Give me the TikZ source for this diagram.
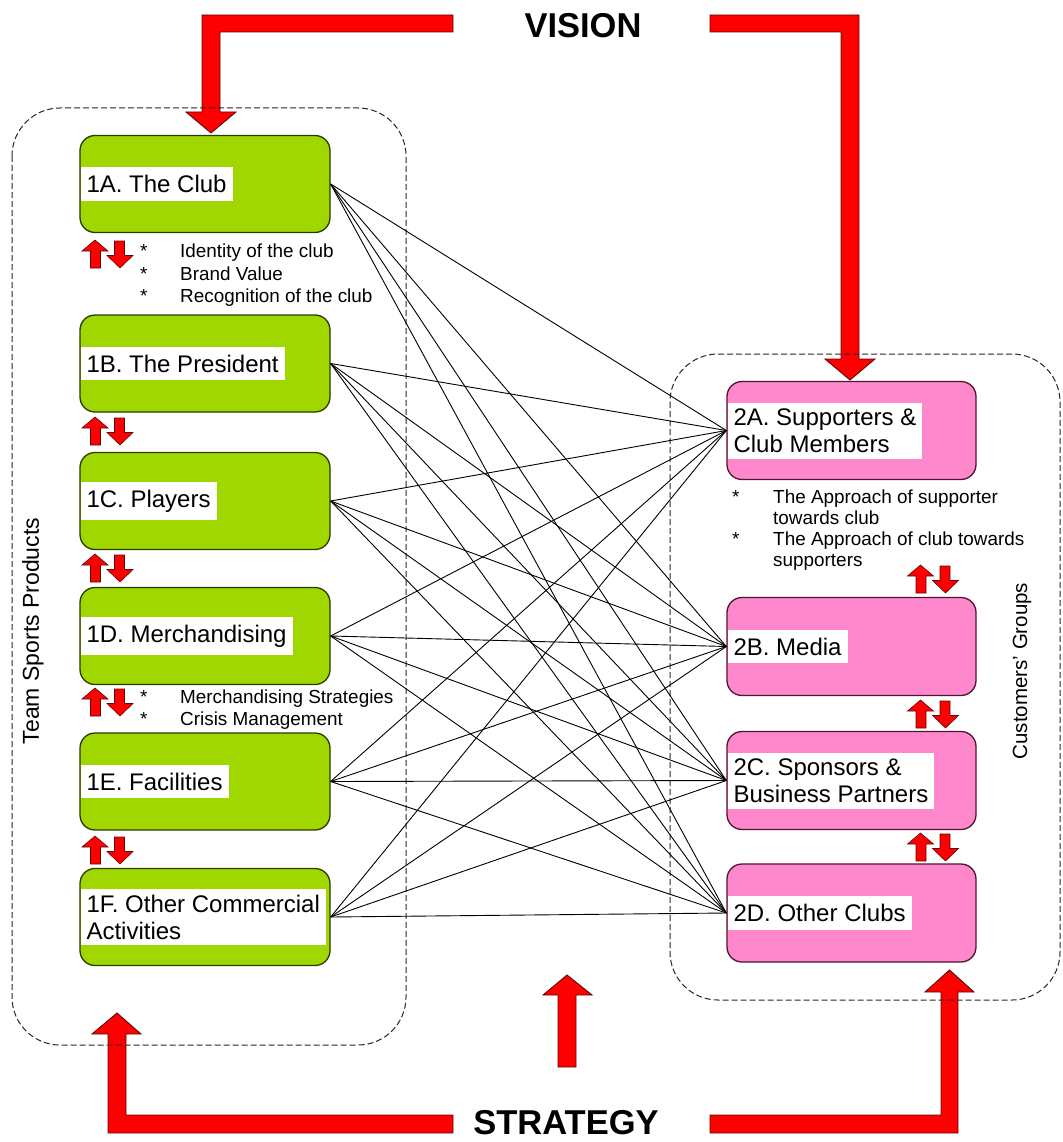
\documentclass[tikz,border=0pt]{standalone}
\usepackage{fontspec}
\setmainfont{Liberation Sans}
\definecolor{limegreen}{RGB}{160,215,0}
\definecolor{pinkfill}{RGB}{255,136,204}
\definecolor{arrred}{RGB}{255,0,0}
\definecolor{arredge}{RGB}{90,10,10}
\definecolor{greenedge}{RGB}{40,60,0}
\definecolor{pinkedge}{RGB}{80,20,50}
\begin{document}
\begin{tikzpicture}[x=1pt,y=-1pt,
  greenbox/.style={draw=greenedge, line width=1.3pt, fill=limegreen, rounded corners=15pt, minimum width=250pt, minimum height=97pt, inner sep=0pt},
  pinkbox/.style={draw=pinkedge, line width=1.3pt, fill=pinkfill, rounded corners=15pt, minimum width=249pt, minimum height=98pt, inner sep=0pt},
  lbl/.style={fill=white, inner xsep=6pt, inner ysep=8pt, font=\fontsize{24}{27}\selectfont, align=left, anchor=west},
  note/.style={font=\fontsize{18.9}{22}\selectfont, anchor=base west, inner sep=0pt},
  bigred/.style={fill=arrred, draw=arredge, line width=0.9pt},
  dashbox/.style={draw=black!85, dash pattern=on 6pt off 3pt, rounded corners=48pt, line width=1pt},
  conn/.style={draw=black, line width=0.9pt},
  titletext/.style={font=\fontsize{34.5}{40}\selectfont\bfseries, inner sep=0pt},
  sidetext/.style={rotate=90, inner sep=0pt},
  updown/.pic={
    \filldraw[fill=arrred, draw=arredge, line width=0.6pt] (-17,14) -- (-17,-3) -- (-25.5,-3) -- (-12.5,-14) -- (0.5,-3) -- (-7,-3) -- (-7,14) -- cycle;
    \filldraw[fill=arrred, draw=arredge, line width=0.6pt] (7,-13) -- (7,1.5) -- (-0.5,1.5) -- (12.5,14) -- (25.5,1.5) -- (17,1.5) -- (17,-13) -- cycle;
  }
]
\useasboundingbox (0,0) rectangle (1062,1142);

% big red arrows
\filldraw[bigred] (453,15) -- (202,15) -- (202,112) -- (186,112) -- (211,133) -- (236,112) -- (220,112) -- (220,32) -- (453,32) -- cycle;
\filldraw[bigred] (710,15) -- (859,15) -- (859,359) -- (875,359) -- (850,380) -- (825,359) -- (841,359) -- (841,32) -- (710,32) -- cycle;
\filldraw[bigred] (453,1115) -- (126,1115) -- (126,1034) -- (141,1034) -- (117,1013) -- (92,1034) -- (108,1034) -- (108,1133) -- (453,1133) -- cycle;
\filldraw[bigred] (710,1115) -- (941,1115) -- (941,992) -- (925,992) -- (949.5,970) -- (974,992) -- (958,992) -- (958,1133) -- (710,1133) -- cycle;
\filldraw[bigred] (558,1067) -- (558,995) -- (543,995) -- (567,975) -- (592,995) -- (576,995) -- (576,1067) -- cycle;

% dashed group frames
\draw[dashbox] (12,108) rectangle (406,1045);
\draw[dashbox] (670,354) rectangle (1060,1000);

% boxes
\node[greenbox] (g1A) at (205,184) {};
\node[greenbox] (g1B) at (205,363.5) {};
\node[greenbox] (g1C) at (205,501) {};
\node[greenbox] (g1D) at (205,636) {};
\node[greenbox] (g1E) at (205,781.5) {};
\node[greenbox] (g1F) at (205,917) {};
\node[pinkbox] (p2A) at (851.5,430.5) {};
\node[pinkbox] (p2B) at (851.5,646.5) {};
\node[pinkbox] (p2C) at (851.5,780.5) {};
\node[pinkbox] (p2D) at (851.5,913) {};

% connectors
\foreach \a in {1A,1B,1C,1D,1E,1F}{
  \foreach \b in {2A,2B,2C,2D}{
    \draw[conn] (g\a.east) -- (p\b.west);
  }
}

% labels
\node[lbl] (l1A) at ([xshift=1pt]g1A.west) {1A. The Club};
\node[lbl] (l1B) at ([xshift=1pt]g1B.west) {1B. The President};
\node[lbl] (l1C) at ([xshift=1pt]g1C.west) {1C. Players};
\node[lbl] (l1D) at ([xshift=1pt]g1D.west) {1D. Merchandising};
\node[lbl] (l1E) at ([xshift=1pt]g1E.west) {1E. Facilities};
\node[lbl, inner ysep=6pt] (l1F) at ([xshift=1pt]g1F.west) {1F. Other Commercial\\Activities};
\node[lbl, inner ysep=6pt] (l2A) at ([xshift=1pt]p2A.west) {2A. Supporters \&\\Club Members};
\node[lbl] (l2B) at ([xshift=1pt]p2B.west) {2B. Media};
\node[lbl, inner ysep=6pt] (l2C) at ([xshift=1pt]p2C.west) {2C. Sponsors \&\\Business Partners};
\node[lbl] (l2D) at ([xshift=1pt]p2D.west) {2D. Other Clubs};

% notes
\node[note] (s1) at (140,257) {*};
\node[note] (n1) at (180,257) {Identity of the club};
\node[note] (s2) at (140,280) {*};
\node[note] (n2) at (180,280) {Brand Value};
\node[note] (s3) at (140,302) {*};
\node[note] (n3) at (180,302) {Recognition of the club};
\node[note] (s4) at (140,703) {*};
\node[note] (n4) at (180,703) {Merchandising Strategies};
\node[note] (s5) at (140,725) {*};
\node[note] (n5) at (180,725) {Crisis Management};
\node[note] (s6) at (732,503) {*};
\node[note] (n6) at (773,503) {The Approach of supporter};
\node[note] (n7) at (773,524) {towards club};
\node[note] (s7) at (732,545) {*};
\node[note] (n8) at (773,545) {The Approach of club towards};
\node[note] (n9) at (773,566) {supporters};

% small double arrows
\pic at (107.5,254) {updown};
\pic at (107.5,431) {updown};
\pic at (107.5,568) {updown};
\pic at (107.5,702) {updown};
\pic at (107.5,850) {updown};
\pic at (933,579) {updown};
\pic at (933,714) {updown};
\pic at (933,847) {updown};

% side and title texts
\node[sidetext, font=\fontsize{23}{27}\selectfont] (tsp) at (33,631) {Team Sports Products};
\node[sidetext, font=\fontsize{20.5}{24}\selectfont] (cg) at (1022,671) {Customers' Groups};
\node[titletext] (vision) at (583,26) {VISION};
\node[titletext] (strategy) at (566,1123) {STRATEGY};
\end{tikzpicture}
\end{document}
